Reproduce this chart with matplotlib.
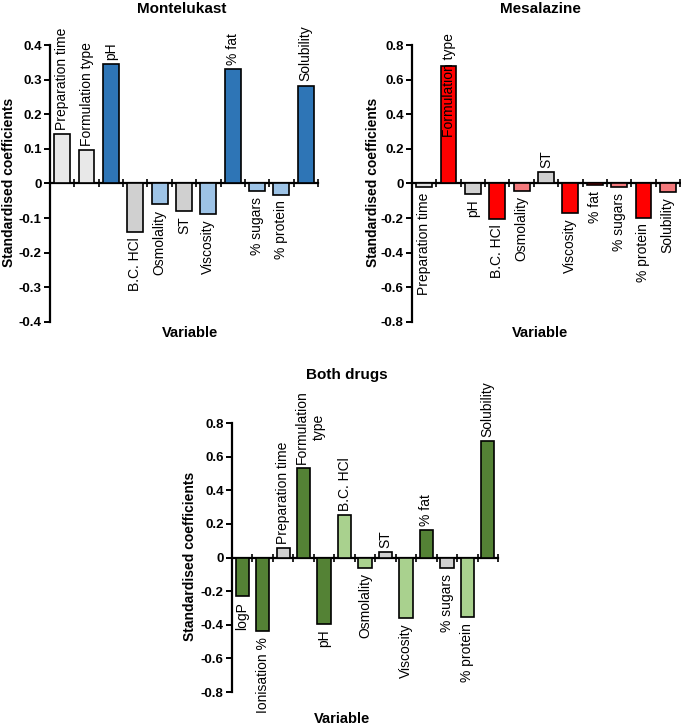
import matplotlib.pyplot as plt
from matplotlib.ticker import FuncFormatter

plt.rcParams['font.family'] = ['Liberation Sans', 'DejaVu Sans']

# Montelukast
mont_vars = ['Preparation time', 'Formulation type', 'pH', 'B.C. HCl', 'Osmolality', 'ST',
             'Viscosity', '% fat', '% sugars', '% protein', 'Solubility']
mont_vals = [0.143, 0.097, 0.345, -0.140, -0.060, -0.078, -0.087, 0.330, -0.022, -0.033, 0.283]
mont_cols = ['#e8e8e8', '#e8e8e8', '#2e75b6', '#d0d0d0', '#9dc3e6', '#d0d0d0',
             '#9dc3e6', '#2e75b6', '#9dc3e6', '#9dc3e6', '#2e75b6']

# Mesalazine
mesa_vars = ['Preparation time', 'Formulation type', 'pH', 'B.C. HCl', 'Osmolality', 'ST',
             'Viscosity', '% fat', '% sugars', '% protein', 'Solubility']
mesa_vals = [-0.018, 0.680, -0.058, -0.205, -0.042, 0.065, -0.170, -0.010, -0.020, -0.198, -0.047]
mesa_cols = ['#e0e0e0', '#ff0000', '#d0d0d0', '#ff0000', '#f4797c', '#d0d0d0',
             '#ff0000', '#ff0000', '#f4797c', '#ff0000', '#f4797c']

# Both drugs
both_vars = ['logP', 'Ionisation %', 'Preparation time', 'Formulation\ntype', 'pH', 'B.C. HCl',
             'Osmolality', 'ST', 'Viscosity', '% fat', '% sugars', '% protein', 'Solubility']
both_vals = [-0.230, -0.440, 0.055, 0.530, -0.395, 0.250, -0.060, 0.030, -0.360, 0.165,
             -0.065, -0.355, 0.695]
both_cols = ['#548235', '#548235', '#d0d0d0', '#548235', '#548235', '#a9d18e', '#a9d18e',
             '#d0d0d0', '#a9d18e', '#548235', '#d0d0d0', '#a9d18e', '#548235']

fig = plt.figure(figsize=(6.81, 7.25), dpi=100)


def draw(rect, names, vals, cols, lim, step, title, title_xy, ylab_xy, var_xy, special=None):
    ax = fig.add_axes(rect)
    n = len(vals)
    x = list(range(n))
    ax.bar(x, vals, width=0.65, color=cols, edgecolor='black', linewidth=1.2, zorder=3)
    ax.set_xlim(-0.5, n - 0.5)
    ax.set_ylim(-lim, lim)
    ticks = [round(-lim + i * step, 2) for i in range(int(round(2 * lim / step)) + 1)]
    ax.set_yticks(ticks)
    ax.yaxis.set_major_formatter(FuncFormatter(lambda v, p: '0' if abs(v) < 1e-9 else '%g' % v))
    ax.set_xticks([i - 0.5 for i in range(n + 1)])
    ax.set_xticklabels([])
    ax.spines['top'].set_visible(False)
    ax.spines['right'].set_visible(False)
    ax.spines['bottom'].set_position(('data', 0))
    ax.spines['bottom'].set_linewidth(1.6)
    ax.spines['left'].set_linewidth(1.6)
    ax.tick_params(axis='y', direction='out', length=4, width=1.4, pad=2, labelsize=9.5)
    ax.tick_params(axis='x', direction='inout', length=6, width=1.2)
    for lab in ax.get_yticklabels():
        lab.set_fontweight('bold')
    for i, (nm, v) in enumerate(zip(names, vals)):
        if special is not None and nm in special:
            dx, y, va = special[nm]
            ax.text(i + dx, y, nm, rotation=90, ha='center', va=va, fontsize=10,
                    multialignment='center', zorder=4)
            continue
        if v >= 0:
            ax.annotate(nm, (i, v), xytext=(0, 3), textcoords='offset points', rotation=90,
                        ha='center', va='bottom', fontsize=10, multialignment='center',
                        annotation_clip=False)
        else:
            ax.annotate(nm, (i, v), xytext=(0, -4), textcoords='offset points', rotation=90,
                        ha='center', va='top', fontsize=10, annotation_clip=False)
    fig.text(title_xy[0], title_xy[1], title, ha='center', va='center', fontsize=11,
             fontweight='bold')
    fig.text(ylab_xy[0], ylab_xy[1], 'Standardised coefficients', rotation=90, ha='center',
             va='center', fontsize=10, fontweight='bold')
    fig.text(var_xy[0], var_xy[1], 'Variable', ha='center', va='center', fontsize=10.5,
             fontweight='bold')
    return ax


draw([0.0734, 0.5559, 0.3935, 0.382], mont_vars, mont_vals, mont_cols, 0.4, 0.1,
     'Montelukast', (0.267, 0.988), (0.013, 0.749), (0.279, 0.541))
draw([0.605, 0.5559, 0.3935, 0.382], mesa_vars, mesa_vals, mesa_cols, 0.8, 0.2,
     'Mesalazine', (0.793, 0.988), (0.548, 0.749), (0.793, 0.541),
     special={'Formulation type': (0, 0.27, 'bottom')})
draw([0.3407, 0.0455, 0.3906, 0.371], both_vars, both_vals, both_cols, 0.8, 0.2,
     'Both drugs', (0.51, 0.483), (0.279, 0.232), (0.502, 0.008),
     special={'Formulation\ntype': (0.33, 0.555, 'bottom')})

fig.savefig('out.png', dpi=100)
